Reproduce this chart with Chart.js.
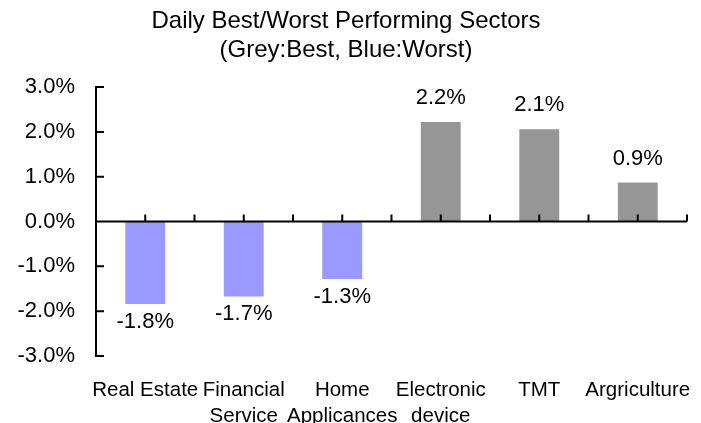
<!DOCTYPE html>
<html>
<head>
<meta charset="utf-8">
<script src="https://cdn.jsdelivr.net/npm/chart.js@4.4.1/dist/chart.umd.min.js"></script>
<style>
    html, body { margin: 0; padding: 0; background: #fff; }
    #wrap { width: 701px; height: 423px; }
</style>
</head>
<body>
<div id="wrap"><canvas id="sectorChart"></canvas></div>
<script>
// chart data
const sectors = ['Real Estate', ['Financial', 'Service'], ['Home', 'Applicances'], ['Electronic', 'device'], 'TMT', 'Argriculture'];
const dailyReturns = [-1.84, -1.67, -1.28, 2.22, 2.06, 0.87];
const yTicks = [-3, -2, -1, 0, 1, 2, 3];
const titleLines = ['Daily Best/Worst Performing Sectors', '(Grey:Best, Blue:Worst)'];

const BEST_COLOR = '#969696';
const WORST_COLOR = '#9999FF';
const FONT = "'Liberation Sans', Arial, sans-serif";

Chart.defaults.font.family = FONT;
Chart.defaults.color = '#000';

function fmtPct(v) {
    return v.toFixed(1) + '%';
}

// axis lines and inward tick marks (Excel style)
const axisMarks = {
    id: 'axisMarks',
    afterDatasetsDraw(chart) {
        const { ctx, chartArea, scales: { x, y } } = chart;
        const left = chartArea.left;
        const y0 = y.getPixelForValue(0);
        const step = x.getPixelForValue(1) - x.getPixelForValue(0);

        ctx.save();
        ctx.strokeStyle = '#000';
        ctx.lineWidth = 2;
        ctx.beginPath();
        // y axis
        ctx.moveTo(left, y.getPixelForValue(yTicks[yTicks.length - 1]) - 1);
        ctx.lineTo(left, y.getPixelForValue(yTicks[0]) + 1);
        yTicks.forEach(v => {
            const py = y.getPixelForValue(v);
            ctx.moveTo(left, py);
            ctx.lineTo(left + 8, py);
        });
        // zero line
        ctx.moveTo(left, y0);
        ctx.lineTo(chartArea.right, y0);
        sectors.forEach((s, i) => {
            const cx = x.getPixelForValue(i);
            [cx, cx + step / 2].forEach(px => {
                ctx.moveTo(px, y0);
                ctx.lineTo(px, y0 - 7);
            });
        });
        ctx.stroke();
        ctx.restore();
    }
};

// value labels above / below bars
const barLabels = {
    id: 'barLabels',
    afterDatasetsDraw(chart) {
        const { ctx } = chart;
        const meta = chart.getDatasetMeta(0);
        ctx.save();
        ctx.font = '22px ' + FONT;
        ctx.fillStyle = '#000';
        ctx.textAlign = 'center';
        ctx.textBaseline = 'middle';
        meta.data.forEach((bar, i) => {
            const v = dailyReturns[i];
            const ly = v >= 0 ? bar.y - 24 : bar.y + 18;
            ctx.fillText(fmtPct(v), bar.x, ly);
        });
        ctx.restore();
    }
};

const ctx = document.getElementById('sectorChart').getContext('2d');
const sectorChart = new Chart(ctx, {
    type: 'bar',
    data: {
        labels: sectors,
        datasets: [{
            data: dailyReturns,
            backgroundColor: dailyReturns.map(v => v >= 0 ? BEST_COLOR : WORST_COLOR),
            borderWidth: 0,
            categoryPercentage: 1,
            barPercentage: 0.405
        }]
    },
    options: {
        responsive: true,
        maintainAspectRatio: false,
        animation: false,
        layout: { padding: { left: 5, right: 14, top: 0, bottom: 0 } },
        plugins: {
            legend: { display: false },
            tooltip: { enabled: false },
            title: {
                display: true,
                text: titleLines,
                color: '#000',
                font: { size: 24, weight: 'normal', lineHeight: 1.21 },
                padding: { top: 6.5, bottom: 22.5 }
            }
        },
        scales: {
            x: {
                position: 'bottom',
                grid: { display: false, drawTicks: false },
                border: { display: false },
                ticks: {
                    color: '#000',
                    font: { size: 20.5, lineHeight: 1.27 },
                    padding: 21,
                    maxRotation: 0,
                    autoSkip: false
                },
                afterFit(scale) {
                    scale.height = 67;
                    scale.paddingLeft = 0;
                    scale.paddingRight = 0;
                }
            },
            y: {
                min: -3,
                max: 3,
                grid: { display: false, drawTicks: false },
                border: { display: false },
                afterBuildTicks(scale) {
                    scale.ticks = yTicks.map(v => ({ value: v }));
                },
                ticks: {
                    color: '#000',
                    font: { size: 22 },
                    padding: 21,
                    callback: v => fmtPct(v)
                },
                afterFit(scale) {
                    scale.width = 91;
                    scale.paddingTop = 0;
                    scale.paddingBottom = 0;
                }
            }
        }
    },
    plugins: [axisMarks, barLabels]
});
</script>
</body>
</html>
